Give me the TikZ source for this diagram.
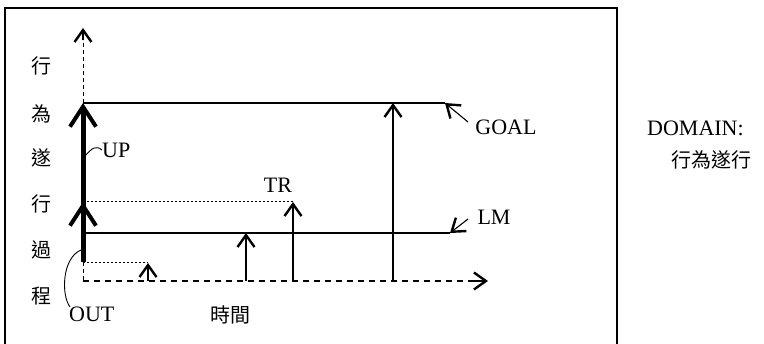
\documentclass[tikz,border=0pt]{standalone}
\usepackage{fontspec}
\setmainfont{Liberation Serif}
\newfontfamily\cjk{Noto Sans CJK TC}
\usetikzlibrary{arrows.meta}
\begin{document}
\begin{tikzpicture}[x=1pt,y=-1pt,
  thinln/.style={line width=1.1pt},
  chev/.style={-{Straight Barb[length=12pt,width=17pt,line width=2.4pt]}},
  bigchev/.style={-{Straight Barb[length=20pt,width=26pt,line width=4pt]}},
  dashln/.style={line width=1.1pt,dash pattern=on 6pt off 5pt},
  shortdash/.style={line width=1pt,dash pattern=on 4pt off 3pt},
  dotln/.style={line width=1pt,dash pattern=on 2pt off 2pt},
  lat/.style={inner sep=0pt,font=\fontsize{22}{24}\selectfont},
  cj/.style={inner sep=0pt,font=\cjk\fontsize{20}{22}\selectfont},
  frameln/.style={line width=1.4pt}
]
\useasboundingbox (0,0) rectangle (764,344);
% frame
\coordinate (FBL) at (5,344);
\coordinate (FTL) at (5,8);
\coordinate (FTR) at (617,8);
\coordinate (FBR) at (617,344);
\draw[frameln] (FBL) -- (FTL) -- (FTR) -- (FBR);
% key points
\coordinate (O) at (83,281);
\coordinate (Yend) at (83,262);
\coordinate (Ytop) at (83,28);
\coordinate (G0) at (83,103);
\coordinate (T0) at (83,202);
\coordinate (L0) at (83,233);
\coordinate (S0) at (83,263);
\coordinate (Xend) at (488,281);
\coordinate (Gend) at (445,103);
\coordinate (Lend) at (450,233);
\coordinate (Sx) at (148,281);
\coordinate (St) at (148,263);
\coordinate (Lx) at (246,281);
\coordinate (Lt) at (246,233);
\coordinate (Tx) at (293,281);
\coordinate (Tt) at (293,202);
\coordinate (Gx) at (393,281);
\coordinate (Gt) at (393,103);
\coordinate (Gtail) at (468,122);
\coordinate (Ltail) at (468,219);
% axes
\draw[shortdash] (G0) -- (83,40);
\draw[chev,thinln] (83,40) -- (Ytop);
\draw[shortdash] (Yend) -- (O);
\draw[dashln] (O) -- (473,281);
\draw[chev,thinln] (473,281) -- (Xend);
% levels
\draw[thinln] (G0) -- (Gend);
\draw[thinln] (L0) -- (Lend);
\draw[dotln] (T0) -- (Tt);
\draw[dotln] (S0) -- (St);
% thick axis
\draw[line width=5pt,bigchev] (Yend) -- (G0);
\draw[line width=5pt,bigchev] (Yend) -- (T0);
% vertical arrows
\draw[thinln,chev] (Sx) -- (St);
\draw[thinln,chev] (Lx) -- (Lt);
\draw[thinln,chev] (Tx) -- (Tt);
\draw[thinln,chev] (Gx) -- (Gt);
% pointer arrows
\draw[thinln,chev] (Gtail) -- (Gend);
\draw[thinln,chev] (Ltail) -- (Lend);
% labels
\node[lat] (goal) at (506,127) {GOAL};
\node[lat] (lm) at (494,217) {LM};
\node[lat] (tr) at (278,185) {TR};
\node[lat,anchor=west] (up) at (102,150) {UP};
\node[lat,anchor=west] (out) at (69,314) {OUT};
\node[cj] (time) at (230,315) {時間};
\node[lat,anchor=west] (dom) at (647,128) {DOMAIN:};
\node[cj,anchor=west] (domv) at (671,160) {行為遂行};
% connector curves
\draw[line width=0.9pt] (85,156) .. controls (92,148) and (96,145) .. (up.west);
\draw[line width=0.9pt] (81,250) .. controls (62,258) and (61,295) .. (70,307);
% vertical label
\node[cj] (c1) at (41,66) {行};
\node[cj] (c2) at (41,114) {為};
\node[cj] (c3) at (41,158) {遂};
\node[cj] (c4) at (41,204) {行};
\node[cj] (c5) at (41,250) {過};
\node[cj] (c6) at (41,296) {程};
\end{tikzpicture}
\end{document}
